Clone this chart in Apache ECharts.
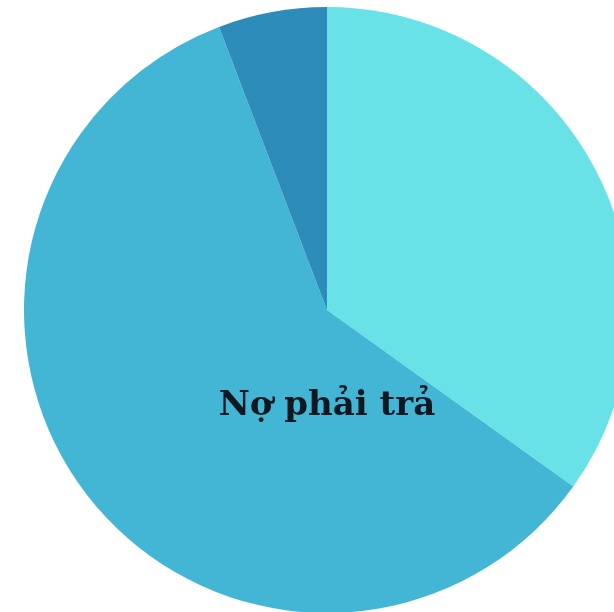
<!DOCTYPE html>
<html><head><meta charset="utf-8">
<script src="https://cdn.jsdelivr.net/npm/echarts@6/dist/echarts.min.js"></script>
<style>html,body{margin:0;padding:0;background:#fff}#c{width:614px;height:612px}</style>
</head><body><div id="c"></div>
<script>
const categories = ['', 'Nợ phải trả', ''];
const values = [34.9, 59.3, 5.8];
const colors = ['#68E2E6', '#43B6D5', '#2E8CBA'];
const chart = echarts.init(document.getElementById('c'));
chart.setOption({
  animation: false,
  series: [{
    type: 'pie',
    center: [327, 310],
    radius: [0, 303],
    startAngle: 90,
    clockwise: true,
    data: categories.map((n, i) => ({
      name: n, value: values[i],
      itemStyle: { color: colors[i] },
      label: { show: i === 1 }
    })),
    label: {
      position: 'inside',
      formatter: '{b}',
      fontFamily: 'DejaVu Serif',
      fontWeight: 'bold',
      fontSize: 34,
      color: '#0d1820'
    },
    labelLine: { show: false },
    labelLayout: function (p) {
      return { x: 327, y: 406, align: 'center', verticalAlign: 'middle' };
    }
  }]
});
</script></body></html>
